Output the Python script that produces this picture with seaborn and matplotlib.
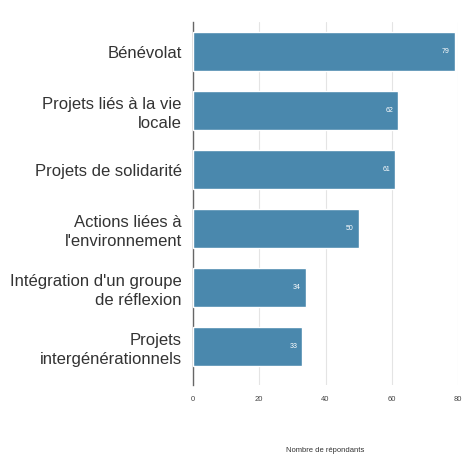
import matplotlib
matplotlib.use("Agg")
import matplotlib.pyplot as plt
import seaborn as sns
import pandas as pd

categories = [
    "Bénévolat",
    "Projets liés à la vie\nlocale",
    "Projets de solidarité",
    "Actions liées à\nl'environnement",
    "Intégration d'un groupe\nde réflexion",
    "Projets\nintergénérationnels",
]
values = [79, 62, 61, 50, 34, 33]
xticks = [0, 20, 40, 60, 80]

df = pd.DataFrame({"categorie": categories, "repondants": values})

sns.set_theme(style="white")
plt.rcParams["font.family"] = ["Liberation Sans", "DejaVu Sans"]

fig = plt.figure(figsize=(4.65, 4.62), dpi=100)
ax = fig.add_axes([0.415, 0.167, 0.57, 0.785])

sns.barplot(data=df, x="repondants", y="categorie", color="#4a88ad",
            saturation=1, width=0.65, ax=ax, zorder=3)

for patch, v in zip(ax.patches, values):
    y = patch.get_y() + patch.get_height() / 2
    ax.text(v - 1.5, y, str(v), ha="right", va="center",
            fontsize=5, color="white", zorder=4)

ax.set_xlim(0, 80)
ax.set_ylim(5.65, -0.5)
ax.set_xticks(xticks)
ax.set_xticklabels([str(t) for t in xticks], fontsize=5.5, color="#444444")
ax.tick_params(axis="x", length=0, pad=8)
ax.tick_params(axis="y", length=0, pad=8, labelsize=12, labelcolor="#333333")
for lbl in ax.get_yticklabels():
    lbl.set_horizontalalignment("right")
    lbl.set_multialignment("right")
    lbl.set_linespacing(1.3)

ax.xaxis.grid(True, color="#e4e4e4", linewidth=0.8, zorder=0)
ax.yaxis.grid(False)
for side in ["top", "right", "bottom"]:
    ax.spines[side].set_visible(False)
ax.spines["left"].set_color("#666666")
ax.spines["left"].set_linewidth(1.0)

ax.set_ylabel("")
ax.set_xlabel("Nombre de répondants", fontsize=5.5, color="#333333", labelpad=32)

fig.savefig("out.png", dpi=100, facecolor="white")
